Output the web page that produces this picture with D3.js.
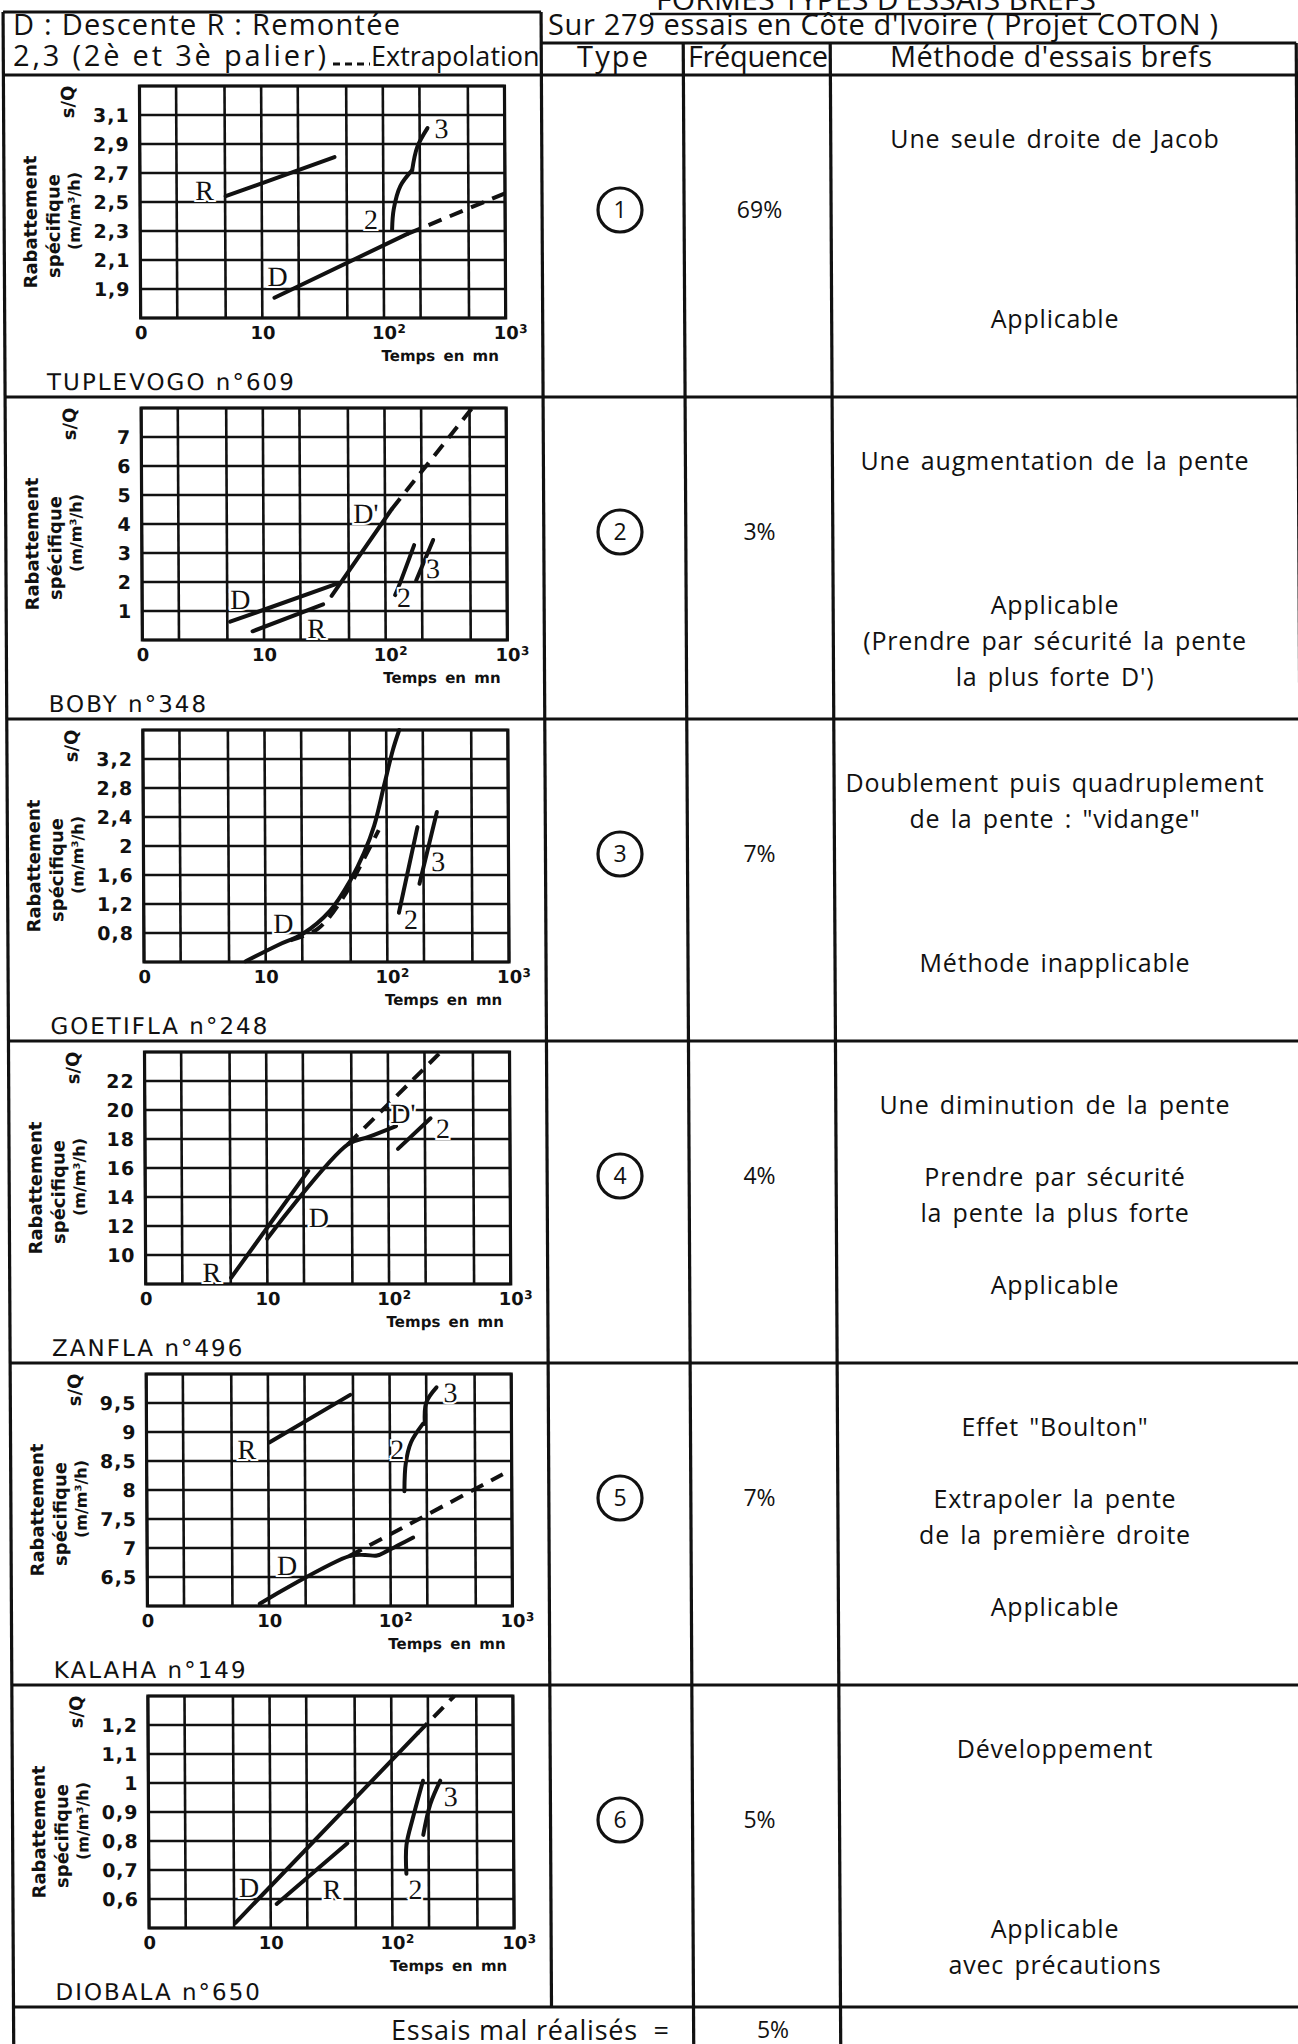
<!DOCTYPE html>
<html>
<head>
<meta charset="utf-8">
<script src="https://cdn.jsdelivr.net/npm/d3@7"></script>
<style>
  body { margin: 0; background: #fff; }
  svg { display: block; }
</style>
</head>
<body>
<svg id="chart" width="1298" height="2044"></svg>
<script>
// ---------------- data ----------------
// common log time axis (minutes)
const xGridValues = [1, 2, 5, 10, 20, 50, 100, 200, 500, 1000];
const xTickValues = [1, 10, 100, 1000];
const xTickLabels = ["0", "10", "10²", "10³"];

// Panel 1 : TUPLEVOGO n°609
const p1Name = "TUPLEVOGO n°609";
const p1YDomain = [1.7, 3.3];
const p1YTicks = [1.9, 2.1, 2.3, 2.5, 2.7, 2.9, 3.1];
const p1R = [[5.06, 2.54], [39.8, 2.81]];
const p1D = [[12.6, 1.84], [157, 2.28]];
const p1DExt = [[157, 2.28], [1000, 2.56]];
const p1S2 = [[117.6, 2.31], [121.5, 2.45], [138, 2.61], [173, 2.72]];
const p1S3 = [[173, 2.72], [191, 2.88], [232, 3.01]];
const p1Labels = [["R", 3.4, 2.58], ["D", 13.4, 1.99], ["2", 79, 2.38], ["3", 302, 3.01]];

// Panel 2 : BOBY n°348
const p2Name = "BOBY n°348";
const p2YDomain = [0, 8];
const p2YTicks = [1, 2, 3, 4, 5, 6, 7];
const p2D = [[5.28, 0.63], [41.2, 1.96]];
const p2Dp = [[36.1, 1.52], [113, 4.5]];
const p2DpExt = [[113, 4.5], [524, 7.99]];
const p2R = [[8.06, 0.30], [30.7, 1.23]];
const p2S2 = [[120, 1.55], [126, 1.75], [173, 3.27]];
const p2S3 = [[179, 2.05], [248, 3.45]];
const p2Labels = [["D", 6.4, 1.41], ["R", 27, 0.42], ["D'", 69.5, 4.38], ["2", 142, 1.47], ["3", 246, 2.46]];

// Panel 3 : GOETIFLA n°248
const p3Name = "GOETIFLA n°248";
const p3YDomain = [0.4, 3.6];
const p3YTicks = [0.8, 1.2, 1.6, 2, 2.4, 2.8, 3.2];
const p3D = [[6.85, 0.41], [12.7, 0.635], [20.1, 0.786], [33.9, 1.106], [50.1, 1.529],
             [65, 1.906], [79, 2.282], [96, 2.847], [113, 3.318], [128, 3.6]];
const p3DExt = [[16, 0.70], [27, 0.86], [44, 1.30], [62, 1.76], [86, 2.22]];
const p3S2 = [[125, 1.08], [179, 2.26]];
const p3S3 = [[185, 1.48], [259, 2.47]];
const p3Labels = [["D", 14, 0.94], ["2", 157, 0.99], ["3", 264, 1.79]];

// Panel 4 : ZANFLA n°496
const p4Name = "ZANFLA n°496";
const p4YDomain = [8, 24];
const p4YTicks = [10, 12, 14, 16, 18, 20, 22];
const p4R = [[5.03, 8.43], [21.9, 15.8]];
const p4D = [[10, 11.12], [46.5, 17.63], [68.9, 18.14], [116, 18.89]];
const p4DpExt = [[46.5, 17.63], [263, 23.87]];
const p4S2 = [[120, 17.32], [223, 19.43]];
const p4Labels = [["R", 3.5, 8.78], ["D", 26.7, 12.64], ["D'", 132, 19.78], ["2", 281, 18.73]];

// Panel 5 : KALAHA n°149
const p5Name = "KALAHA n°149";
const p5YDomain = [6, 10];
const p5YTicks = [6.5, 7, 7.5, 8, 8.5, 9, 9.5];
const p5R = [[10.2, 8.82], [47.4, 9.64]];
const p5D = [[8.38, 6.04], [45.9, 6.86], [62, 6.88], [77.5, 6.87], [94.3, 6.95], [154, 7.18]];
const p5DExt = [[45.9, 6.86], [844, 8.27]];
const p5S2 = [[131, 7.98], [135, 8.47], [149, 8.82], [187, 9.14]];
const p5S3 = [[194, 9.14], [200, 9.51], [243, 9.77]];
const p5Labels = [["R", 6.67, 8.70], ["D", 14.1, 6.70], ["2", 115, 8.70], ["3", 316, 9.68]];

// Panel 6 : DIOBALA n°650
const p6Name = "DIOBALA n°650";
const p6YDomain = [0.5, 1.3];
const p6YTicks = [0.6, 0.7, 0.8, 0.9, 1, 1.1, 1.2];
const p6D = [[5.13, 0.518], [164, 1.171]];
const p6DExt = [[164, 1.171], [330, 1.3]];
const p6R = [[11.2, 0.583], [43, 0.792]];
const p6S2 = [[131, 0.687], [131.5, 0.786], [149, 0.88], [181, 1.008]];
const p6S3 = [[181, 0.821], [207, 0.926], [251, 1.008]];
const p6Labels = [["D", 6.67, 0.641], ["R", 32, 0.635], ["2", 155, 0.635], ["3", 306, 0.955]];

// right-hand columns
const typeNumbers = ["1", "2", "3", "4", "5", "6"];
const frequencies = ["69%", "3%", "7%", "4%", "7%", "5%"];
const methodTexts = [
  ["Une seule droite de Jacob", "", "", "", "", "Applicable"],
  ["Une augmentation de la pente", "", "", "", "Applicable", "(Prendre par sécurité la pente", "la plus forte D')"],
  ["Doublement puis quadruplement", "de la pente : \"vidange\"", "", "", "", "Méthode inapplicable"],
  ["Une diminution de la pente", "", "Prendre par sécurité", "la pente la plus forte", "", "Applicable"],
  ["Effet \"Boulton\"", "", "Extrapoler la pente", "de la première droite", "", "Applicable"],
  ["Développement", "", "", "", "", "Applicable", "avec précautions"]
];
const badTestsLabel = "Essais mal réalisés  =";
const badTestsFreq = "5%";

// panel table consumed by the drawing loop
const panels = [
  { name: p1Name, yDomain: p1YDomain, yTicks: p1YTicks, solid: [p1R, p1D], dashed: [p1DExt], curves: [p1S2, p1S3], labels: p1Labels },
  { name: p2Name, yDomain: p2YDomain, yTicks: p2YTicks, solid: [p2D, p2Dp, p2R], dashed: [p2DpExt], curves: [p2S2, p2S3], labels: p2Labels },
  { name: p3Name, yDomain: p3YDomain, yTicks: p3YTicks, solid: [], dashed: [p3DExt], curves: [p3D, p3S2, p3S3], labels: p3Labels },
  { name: p4Name, yDomain: p4YDomain, yTicks: p4YTicks, solid: [p4R, p4S2], dashed: [p4DpExt], curves: [p4D], labels: p4Labels },
  { name: p5Name, yDomain: p5YDomain, yTicks: p5YTicks, solid: [p5R], dashed: [p5DExt], curves: [p5D, p5S2, p5S3], labels: p5Labels },
  { name: p6Name, yDomain: p6YDomain, yTicks: p6YTicks, solid: [p6D, p6R], dashed: [p6DExt], curves: [p6S2, p6S3], labels: p6Labels }
];

// ---------------- layout ----------------
const INK = "#111";
const BODY_FONT = "'Open Sans', 'Noto Sans', sans-serif";
const AXIS_FONT = "'DejaVu Sans', sans-serif";
const SERIF_FONT = "'Liberation Serif', 'DejaVu Serif', serif";

const colX = [3, 541, 683, 830, 1296];
const headTop = 12, headMid = 43, headBottom = 75, rowH = 322;
const rowTop = i => headBottom + i * rowH;
const tableBottom = rowTop(6);

const svg = d3.select("#chart");
// the whole sheet leans slightly to the right going down
const sheet = svg.append("g").attr("transform", "skewX(0.3)");

// ---------------- table frame ----------------
const frame = sheet.append("g").attr("stroke", INK).attr("stroke-width", 3.2).attr("fill", "none");
const hLines = [
  [colX[0], colX[1], headTop],
  [colX[1], colX[4], headMid]
];
for (let i = 0; i <= 6; i++) hLines.push([colX[0], colX[4], rowTop(i)]);
frame.selectAll(".h").data(hLines).join("line")
  .attr("x1", d => d[0]).attr("x2", d => d[1]).attr("y1", d => d[2]).attr("y2", d => d[2]);
const vLines = [
  [colX[0], headTop, 2060],
  [colX[1], headTop, tableBottom],
  [colX[2], headMid, 2060],
  [colX[3], headMid, 2060],
  [colX[4], headMid, 2060]
];
frame.selectAll(".v").data(vLines).join("line")
  .attr("x1", d => d[0]).attr("x2", d => d[0]).attr("y1", d => d[1]).attr("y2", d => d[2]);

// ---------------- header ----------------
const head = svg.append("g").attr("fill", INK).style("font-family", BODY_FONT);
head.append("text").attr("x", 876).attr("y", 10).attr("text-anchor", "middle")
  .attr("textLength", 440).style("font-size", "30px").text("FORMES TYPES D'ESSAIS BREFS");
head.append("line").attr("x1", 650).attr("x2", 1101).attr("y1", 14).attr("y2", 14)
  .attr("stroke", INK).attr("stroke-width", 2.5);
head.append("text").attr("x", 13).attr("y", 35).attr("textLength", 387)
  .style("font-size", "29px").text("D : Descente R : Remontée");
head.append("text").attr("x", 13).attr("y", 66).attr("textLength", 313)
  .style("font-size", "29px").text("2,3 (2è et 3è palier)");
head.append("line").attr("x1", 333).attr("x2", 370).attr("y1", 64).attr("y2", 64)
  .attr("stroke", INK).attr("stroke-width", 3).attr("stroke-dasharray", "7,5");
head.append("text").attr("x", 371).attr("y", 66).style("font-size", "27px").text("Extrapolation");
head.append("text").attr("x", 548).attr("y", 35).attr("textLength", 670)
  .style("font-size", "29px").text("Sur 279 essais en Côte d'Ivoire ( Projet COTON )");
head.append("text").attr("x", 577).attr("y", 67).attr("textLength", 71)
  .style("font-size", "29px").text("Type");
head.append("text").attr("x", 688).attr("y", 67).attr("textLength", 140)
  .style("font-size", "29px").text("Fréquence");
head.append("text").attr("x", 890).attr("y", 67).attr("textLength", 322)
  .style("font-size", "29px").text("Méthode d'essais brefs");

// ---------------- panels ----------------
const gridLeft = 139, gridRight = 504, gridOffset = 11, gridH = 232;
const decFmt = v => String(v).replace(".", ",");
const supMap = { "²": "2", "³": "3" };

panels.forEach((p, i) => {
  const top = rowTop(i);
  const gt = top + gridOffset, gb = gt + gridH;
  const x = d3.scaleLog().domain([1, 1000]).range([gridLeft, gridRight]);
  const y = d3.scaleLinear().domain(p.yDomain).range([gb, gt]);
  const g = sheet.append("g");

  // grid
  const grid = g.append("g").attr("stroke", INK).attr("stroke-width", 2.6);
  grid.selectAll(".gx").data(xGridValues).join("line")
    .attr("x1", d => x(d)).attr("x2", d => x(d)).attr("y1", gt).attr("y2", gb);
  const yGrid = [p.yDomain[0], ...p.yTicks, p.yDomain[1]];
  grid.selectAll(".gy").data(yGrid).join("line")
    .attr("x1", gridLeft).attr("x2", gridRight).attr("y1", d => y(d)).attr("y2", d => y(d));
  grid.append("rect").attr("x", gridLeft).attr("y", gt).attr("width", gridRight - gridLeft)
    .attr("height", gridH).attr("fill", "none").attr("stroke-width", 3.2);

  // y axis labels
  const yAxis = g.append("g").attr("transform", `translate(${gridLeft},0)`)
    .call(d3.axisLeft(y).tickValues(p.yTicks).tickFormat(decFmt).tickSize(0).tickPadding(10));
  yAxis.select(".domain").remove();
  yAxis.selectAll("text").attr("fill", INK).style("font-family", AXIS_FONT)
    .style("font-weight", "bold").style("font-size", "19px").style("letter-spacing", "1px");

  // x axis labels
  const xAxis = g.append("g").attr("transform", `translate(0,${gb})`)
    .call(d3.axisBottom(x).tickValues(xTickValues).tickFormat((d, k) => xTickLabels[k].replace(/[²³]/, ""))
      .tickSize(0).tickPadding(8));
  xAxis.select(".domain").remove();
  xAxis.selectAll("text").attr("fill", INK).style("font-family", AXIS_FONT)
    .style("font-weight", "bold").style("font-size", "18px")
    .each(function (d, k) {
      const m = xTickLabels[k].match(/[²³]/);
      if (m) {
        d3.select(this).append("tspan").attr("x", 13).attr("dy", "-0.45em")
          .attr("text-anchor", "start").style("font-size", "12px").text(supMap[m[0]]);
      }
    });

  // axis titles
  const titles = [
    ["Rabattement", gridLeft - 110, gt + 136, 18],
    ["spécifique", gridLeft - 87, gt + 140, 18],
    ["(m/m³/h)", gridLeft - 66, gt + 125, 16],
    ["s/Q", gridLeft - 72, gt + 16, 18]
  ];
  g.selectAll(".ttl").data(titles).join("text")
    .attr("transform", d => `translate(${d[1]},${d[2]}) rotate(-90)`)
    .attr("text-anchor", "middle").attr("dy", "0.36em").attr("fill", INK)
    .style("font-family", AXIS_FONT).style("font-weight", "bold")
    .style("font-size", d => d[3] + "px").text(d => d[0]);
  g.append("text").attr("x", gridRight - 7).attr("y", gb + 43).attr("text-anchor", "end")
    .attr("fill", INK).style("font-family", AXIS_FONT).style("font-weight", "bold")
    .style("font-size", "15px").style("word-spacing", "3px").text("Temps en mn");
  g.append("text").attr("x", gridLeft - 94).attr("y", top + rowH - 7).attr("fill", INK)
    .style("font-family", AXIS_FONT).style("font-size", "23px").style("letter-spacing", "2px")
    .text(p.name);

  // drawdown lines
  const straight = d3.line().x(d => x(d[0])).y(d => y(d[1]));
  const smooth = d3.line().x(d => x(d[0])).y(d => y(d[1])).curve(d3.curveCatmullRom.alpha(0.5));
  const marks = g.append("g").attr("fill", "none").attr("stroke", INK)
    .attr("stroke-width", 4).attr("stroke-linecap", "round");
  marks.selectAll(".s").data(p.solid).join("path").attr("d", straight);
  marks.selectAll(".c").data(p.curves).join("path").attr("d", smooth);
  marks.selectAll(".d").data(p.dashed).join("path").attr("d", smooth)
    .attr("stroke-dasharray", "14,9").attr("stroke-linecap", "butt");

  // letters on the curves
  g.selectAll(".lbl").data(p.labels).join("text")
    .attr("x", d => x(d[1])).attr("y", d => y(d[2])).attr("dy", "0.35em")
    .attr("text-anchor", "middle").attr("fill", INK)
    .attr("stroke", "#fff").attr("stroke-width", 4).style("paint-order", "stroke")
    .style("font-family", SERIF_FONT).style("font-size", "28px").text(d => d[0]);
});

// ---------------- right-hand columns ----------------
const right = svg.append("g").attr("fill", INK).style("font-family", BODY_FONT);
const methodCenter = 1055;
typeNumbers.forEach((t, i) => {
  const cy = rowTop(i) + 135;
  right.append("circle").attr("cx", 620).attr("cy", cy).attr("r", 22)
    .attr("fill", "none").attr("stroke", INK).attr("stroke-width", 3.2);
  right.append("text").attr("x", 620).attr("y", cy).attr("dy", "0.36em").attr("text-anchor", "middle")
    .style("font-size", "23px").text(t);
  right.append("text").attr("x", (colX[2] + colX[3]) / 2 + 3).attr("y", cy).attr("dy", "0.36em")
    .attr("text-anchor", "middle").style("font-size", "23px").text(frequencies[i]);
  methodTexts[i].forEach((line, k) => {
    if (!line) return;
    right.append("text").attr("x", methodCenter).attr("y", rowTop(i) + 64 + 36 * k)
      .attr("dy", "0.36em").attr("text-anchor", "middle")
      .style("font-size", "25px").style("letter-spacing", "0.8px").style("word-spacing", "3px").text(line);
  });
});
right.append("text").attr("x", 669).attr("y", 2030).attr("dy", "0.36em").attr("text-anchor", "end")
  .attr("textLength", 278).style("font-size", "27px").style("white-space", "pre").text(badTestsLabel);
right.append("text").attr("x", 773).attr("y", 2030).attr("dy", "0.36em").attr("text-anchor", "middle")
  .style("font-size", "23px").text(badTestsFreq);
</script>
</body>
</html>
